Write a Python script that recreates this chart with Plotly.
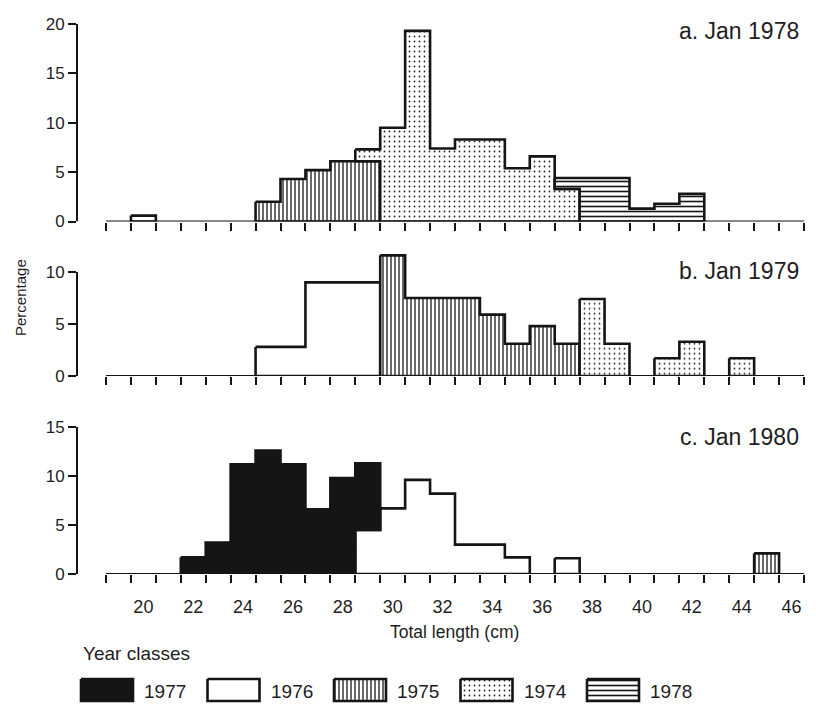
import plotly.graph_objects as go

# ---------------- data (percentage of fish per 1-cm length class) ----------------
lengths = list(range(19, 47))            # bin centres, cm (19 ... 46)
x_tick_labels = list(range(20, 47, 2))   # 20, 22, ..., 46

#          19   20   21   22   23    24    25    26    27   28   29   30    31    32   33   34   35   36   37   38   39   40   41   42   43   44   45   46
a_1976 = [0, 0.6, 0, 0, 0, 0, 0, 0, 0, 0, 0, 0, 0, 0, 0, 0, 0, 0, 0, 0, 0, 0, 0, 0, 0, 0, 0, 0]
a_1975 = [0, 0, 0, 0, 0, 0, 2.0, 4.3, 5.2, 6.1, 6.1, 0, 0, 0, 0, 0, 0, 0, 0, 0, 0, 0, 0, 0, 0, 0, 0, 0]
a_1974 = [0, 0, 0, 0, 0, 0, 0, 0, 0, 0, 1.2, 9.5, 19.3, 7.4, 8.3, 8.3, 5.4, 6.6, 3.3, 0, 0, 0, 0, 0, 0, 0, 0, 0]
a_1978 = [0, 0, 0, 0, 0, 0, 0, 0, 0, 0, 0, 0, 0, 0, 0, 0, 0, 0, 1.1, 4.4, 4.4, 1.3, 1.8, 2.8, 0, 0, 0, 0]

b_1976 = [0, 0, 0, 0, 0, 0, 2.8, 2.8, 9.0, 9.0, 9.0, 0, 0, 0, 0, 0, 0, 0, 0, 0, 0, 0, 0, 0, 0, 0, 0, 0]
b_1975 = [0, 0, 0, 0, 0, 0, 0, 0, 0, 0, 0, 11.6, 7.5, 7.5, 7.5, 5.9, 3.1, 4.8, 3.1, 0, 0, 0, 0, 0, 0, 0, 0, 0]
b_1974 = [0, 0, 0, 0, 0, 0, 0, 0, 0, 0, 0, 0, 0, 0, 0, 0, 0, 0, 0, 7.4, 3.1, 0, 1.7, 3.3, 0, 1.7, 0, 0]

c_1977 = [0, 0, 0, 1.7, 3.2, 11.2, 12.6, 11.2, 6.6, 9.8, 6.8, 0, 0, 0, 0, 0, 0, 0, 0, 0, 0, 0, 0, 0, 0, 0, 0, 0]
c_1976 = [0, 0, 0, 0, 0, 0, 0, 0, 0, 0, 4.5, 6.7, 9.6, 8.2, 3.0, 3.0, 1.7, 0, 1.6, 0, 0, 0, 0, 0, 0, 0, 0, 0]
c_1975 = [0, 0, 0, 0, 0, 0, 0, 0, 0, 0, 0, 0, 0, 0, 0, 0, 0, 0, 0, 0, 0, 0, 0, 0, 0, 0, 2.1, 0]

panel_titles = ["a. Jan 1978", "b. Jan 1979", "c. Jan 1980"]
panel_yticks = [[0, 5, 10, 15, 20], [0, 5, 10], [0, 5, 10, 15]]
# stacking order (bottom -> top) of year classes in each panel
panel_series = [
    [("1976", a_1976), ("1975", a_1975), ("1974", a_1974), ("1978", a_1978)],
    [("1976", b_1976), ("1975", b_1975), ("1974", b_1974)],
    [("1976", c_1976), ("1977", c_1977), ("1975", c_1975)],
]
legend_years = ["1977", "1976", "1975", "1974", "1978"]

# ---------------- styling / layout constants ----------------
PAGE_W = 816
BODY = 8                              # default page margin around the plot div
W, H = PAGE_W - BODY, 697
LEFT_PAGE = 77                        # page x of the y-axis lines
LEFT = LEFT_PAGE - BODY
FONT = "Liberation Sans, Arial, Helvetica, sans-serif"
INK = "#151515"
TXT = "#1e1e1e"
EDGE_PX = 106                         # page x of the first bin edge (18.5 cm)
LAST_EDGE_PX = 804                    # page x of the last bin edge (46.5 cm)
first_edge = lengths[0] - 0.5
last_edge = lengths[-1] + 0.5
PX_PER_CM = (LAST_EDGE_PX - EDGE_PX) / (last_edge - first_edge)
x_min = first_edge - (EDGE_PX - LEFT_PAGE) / PX_PER_CM
x_max = x_min + (PAGE_W - LEFT_PAGE) / PX_PER_CM

# page px of y=0, page px of y=ref, ref value, top of range
panel_px = [(221.5, 24, 20, 20), (376, 272, 10, 12), (574, 427, 15, 15)]

STYLE = {
    "1977": dict(fillcolor=INK),
    "1976": dict(fillcolor="white"),
    "1975": dict(fillcolor="white",
                 fillpattern=dict(shape="|", size=4, solidity=0.32, fgcolor=INK, bgcolor="white")),
    "1974": dict(fillcolor="white",
                 fillpattern=dict(shape=".", size=5, solidity=0.1, fgcolor="#222", bgcolor="white")),
    "1978": dict(fillcolor="white",
                 fillpattern=dict(shape="-", size=5, solidity=0.32, fgcolor=INK, bgcolor="white")),
}

n = len(lengths)


def region_xy(values, base):
    """Outline of each contiguous run of non-zero bins of one year class."""
    xs, ys = [], []
    i = 0
    while i < n:
        if values[i] <= 0:
            i += 1
            continue
        j = i
        while j + 1 < n and values[j + 1] > 0:
            j += 1
        run = list(range(i, j + 1))
        px, py = [], []
        for k in run:
            top = base[k] + values[k]
            px += [lengths[k] - 0.5, lengths[k] + 0.5]
            py += [top, top]
        for k in reversed(run):
            px += [lengths[k] + 0.5, lengths[k] - 0.5]
            py += [base[k], base[k]]
        px.append(px[0])
        py.append(py[0])
        xs += px + [None]
        ys += py + [None]
        i = j + 1
    return xs, ys


fig = go.Figure()
layout = {}
shapes = []
annotations = []
edges = [l - 0.5 for l in lengths] + [lengths[-1] + 0.5]

for p in range(3):
    sfx = "" if p == 0 else str(p + 1)
    xa, ya = "x" + sfx, "y" + sfx
    base = [0.0] * n
    for year, vals in panel_series[p]:
        xs, ys = region_xy(vals, base)
        fig.add_trace(go.Scatter(
            x=xs, y=ys, mode="lines", fill="toself",
            line=dict(color=INK, width=2.6),
            xaxis=xa, yaxis=ya, showlegend=False, hoverinfo="skip",
            **STYLE[year]))
        base = [b + v for b, v in zip(base, vals)]

    y0px, yrefpx, yref, ytop = panel_px[p]
    ppu = (y0px - yrefpx) / yref
    top_px = y0px - ytop * ppu
    layout["yaxis" + sfx] = dict(
        domain=[1 - (y0px - BODY) / H, 1 - (top_px - BODY) / H], range=[0, ytop], anchor=xa,
        showline=False, showgrid=False, zeroline=False,
        tickmode="array", tickvals=panel_yticks[p],
        ticks="outside", ticklen=8, tickwidth=2, tickcolor=INK,
        tickfont=dict(size=17, color=TXT, family=FONT), automargin=False,
        fixedrange=True)
    layout["xaxis" + sfx] = dict(
        domain=[0, 1], range=[x_min, x_max], anchor=ya,
        showline=False, showgrid=False, zeroline=False,
        tickmode="array", tickvals=x_tick_labels,
        ticktext=[str(v) for v in x_tick_labels],
        showticklabels=(p == 2), ticks="", ticklabeloverflow="allow",
        minor=dict(tickmode="array", tickvals=edges, ticks="outside",
                   ticklen=8, tickwidth=2, tickcolor=INK, showgrid=False),
        tickfont=dict(size=18, color=TXT, family=FONT), automargin=False,
        ticklabelstandoff=20, fixedrange=True)
    # y axis line (0 .. last tick) and x axis baseline (first .. last bin edge)
    shapes.append(dict(type="line", xref="paper", yref=ya, x0=0, x1=0,
                       y0=0, y1=panel_yticks[p][-1], line=dict(color=INK, width=2)))
    shapes.append(dict(type="line", xref=xa, yref=ya, x0=edges[0], x1=edges[-1],
                       y0=0, y1=0, line=dict(color=INK, width=2)))

# page-pixel overlay axis for titles, labels and the legend
layout["xaxis4"] = dict(domain=[0, 1], range=[LEFT_PAGE, PAGE_W], anchor="y4",
                        visible=False, fixedrange=True)
layout["yaxis4"] = dict(domain=[0, 1], range=[BODY + H, BODY], anchor="x4",
                        visible=False, fixedrange=True)

title_y = [31, 271, 437]
for p in range(3):
    annotations.append(dict(xref="x4", yref="y4", x=801, y=title_y[p], text=panel_titles[p],
                            xanchor="right", yanchor="middle", showarrow=False,
                            font=dict(size=23, color=TXT, family=FONT)))

annotations.append(dict(xref="x4", yref="y4", x=454, y=632, text="Total length (cm)",
                        xanchor="center", yanchor="middle", showarrow=False,
                        font=dict(size=17.5, color=TXT, family=FONT)))
annotations.append(dict(xref="paper", yref="y4", x=(20 - LEFT_PAGE) / (PAGE_W - LEFT_PAGE), y=298,
                        text="Percentage", textangle=-90, xanchor="center", yanchor="middle",
                        showarrow=False, font=dict(size=15, color=TXT, family=FONT)))
annotations.append(dict(xref="x4", yref="y4", x=81, y=653, text="Year classes",
                        xanchor="left", yanchor="middle", showarrow=False,
                        font=dict(size=19, color=TXT, family=FONT)))

# legend swatches
SW_X0, SW_STEP, SW_W, SW_Y0, SW_Y1 = 81, 126.5, 52, 679, 701
for i, year in enumerate(legend_years):
    x0 = SW_X0 + i * SW_STEP
    fig.add_trace(go.Scatter(
        x=[x0, x0 + SW_W, x0 + SW_W, x0, x0], y=[SW_Y0, SW_Y0, SW_Y1, SW_Y1, SW_Y0],
        mode="lines", fill="toself", line=dict(color=INK, width=2.6),
        xaxis="x4", yaxis="y4", showlegend=False, hoverinfo="skip", **STYLE[year]))
    annotations.append(dict(xref="x4", yref="y4", x=x0 + SW_W + 9, y=691, text=year,
                            xanchor="left", yanchor="middle", showarrow=False,
                            font=dict(size=19, color=TXT, family=FONT)))

fig.update_layout(
    width=W, height=H, template="none",
    margin=dict(l=LEFT, r=0, t=0, b=0, pad=0),
    paper_bgcolor="white", plot_bgcolor="rgba(0,0,0,0)",
    showlegend=False, shapes=shapes, annotations=annotations,
    font=dict(family=FONT, color=TXT),
    **layout)

fig.write_html("out.html")
